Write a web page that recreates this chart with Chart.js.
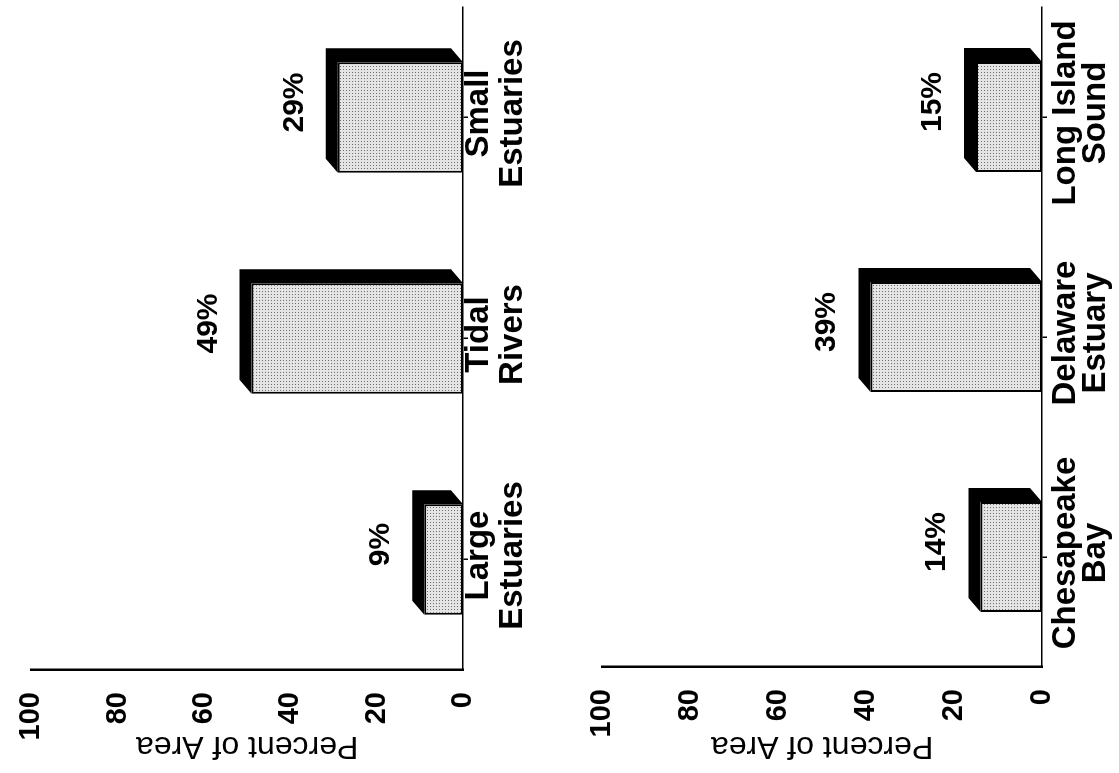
<!DOCTYPE html>
<html>
<head>
<meta charset="utf-8">
<script src="https://cdn.jsdelivr.net/npm/chart.js@4/dist/chart.umd.min.js"></script>
<style>
  html, body { margin: 0; padding: 0; background: #fff; overflow: hidden; }
  /* the printed page is portrait and was scanned lying on its side */
  #page {
    position: absolute; left: 0; top: 0;
    width: 773px; height: 1119px;
    transform-origin: 0 0;
    transform: translate(0, 773px) rotate(-90deg);
  }
  #page canvas { display: block; }
</style>
</head>
<body>
<div id="page">
  <canvas id="regions" width="773" height="560"></canvas>
  <canvas id="estuaries" width="773" height="559"></canvas>
</div>
<script>
// data
const regionLabels = [['Large', 'Estuaries'], ['Tidal', 'Rivers'], ['Small', 'Estuaries']];
const regionPercent = [9, 49, 29];
const estuaryLabels = [['Chesapeake', 'Bay'], ['Delaware', 'Estuary'], ['Long Island', 'Sound']];
const estuaryPercent = [14, 39, 15];
const percentTicks = [0, 20, 40, 60, 80, 100];

Chart.defaults.font.family = '"Liberation Sans", Arial, Helvetica, sans-serif';
Chart.defaults.color = '#000';

// depth of the fake 3d block
const DX = 14;
const DY = 12;

// gray stipple like the printed screen tone
function stipple(ctx) {
  const c = document.createElement('canvas');
  c.width = 3; c.height = 3;
  const g = c.getContext('2d');
  g.fillStyle = '#e4e4e4';
  g.fillRect(0, 0, 3, 3);
  g.fillStyle = '#6e6e6e';
  g.fillRect(1, 1, 1, 1);
  return ctx.createPattern(c, 'repeat');
}

const bar3d = {
  id: 'bar3d',
  beforeDatasetsDraw(chart) {
    const ctx = chart.ctx;
    chart.getDatasetMeta(0).data.forEach(bar => {
      const { x, y, base, width } = bar.getProps(['x', 'y', 'base', 'width'], true);
      const l = x - width / 2, r = x + width / 2;
      ctx.save();
      ctx.fillStyle = '#000';
      ctx.beginPath();
      ctx.moveTo(l, y);
      ctx.lineTo(l + DX, y - DY);
      ctx.lineTo(r + DX, y - DY);
      ctx.lineTo(r + DX, base - DY);
      ctx.lineTo(r, base);
      ctx.lineTo(r, y);
      ctx.closePath();
      ctx.fill();
      ctx.restore();
    });
  },
  afterDatasetsDraw(chart) {
    const ctx = chart.ctx;
    const values = chart.data.datasets[0].data;
    ctx.save();
    ctx.font = 'bold 30px "Liberation Sans", Arial, sans-serif';
    ctx.fillStyle = '#000';
    ctx.textAlign = 'center';
    ctx.textBaseline = 'alphabetic';
    chart.getDatasetMeta(0).data.forEach((bar, i) => {
      const { x, y } = bar.getProps(['x', 'y'], true);
      ctx.fillText(values[i] + '%', x + 15, y - DY - 23);
    });
    ctx.restore();
  }
};

function makeChart(id, labels, values, o) {
  const canvas = document.getElementById(id);
  const ctx = canvas.getContext('2d');
  const h = canvas.height;
  return new Chart(ctx, {
    type: 'bar',
    data: {
      labels: labels,
      datasets: [{
        data: values,
        backgroundColor: stipple(ctx),
        borderColor: '#000',
        borderWidth: 2,
        borderSkipped: false,
        categoryPercentage: 1,
        barPercentage: 0.5
      }]
    },
    options: {
      responsive: false,
      animation: false,
      layout: { padding: { top: o.top, right: 7, left: 0, bottom: 0 } },
      plugins: {
        legend: { display: false },
        tooltip: { enabled: false }
      },
      scales: {
        x: {
          offset: true,
          grid: {
            display: true,
            drawOnChartArea: false,
            drawTicks: true,
            tickLength: 5,
            offset: false,
            color: '#000',
            lineWidth: 1.5
          },
          border: { display: true, color: '#000', width: 1.5, dash: [18, 4] },
          ticks: {
            color: '#000',
            font: { size: 33, weight: 'bold', lineHeight: o.lineHeight },
            padding: o.labelPad,
            labelOffset: 4,
            maxRotation: 0,
            minRotation: 0,
            autoSkip: false
          },
          afterFit(scale) { scale.height = h - o.bottom; }
        },
        y: {
          min: percentTicks[0],
          max: percentTicks[percentTicks.length - 1],
          afterBuildTicks(scale) { scale.ticks = percentTicks.map(v => ({ value: v })); },
          grid: { display: false },
          border: { display: true, color: '#000', width: 2.5 },
          ticks: {
            color: '#000',
            font: { size: 29, weight: 'bold' },
            padding: 14
          },
          title: {
            display: true,
            text: 'Percent of Area',
            color: '#000',
            font: { size: 32 },
            padding: { top: 8, bottom: 0 }
          },
          afterFit(scale) { scale.width = o.left; }
        }
      }
    },
    plugins: [bar3d]
  });
}

makeChart('regions', regionLabels, regionPercent,
  { top: 23, bottom: 463, left: 103, lineHeight: 1.03, labelPad: -6 });
makeChart('estuaries', estuaryLabels, estuaryPercent,
  { top: 42, bottom: 482, left: 106, lineHeight: 0.91, labelPad: 4 });
</script>
</body>
</html>
